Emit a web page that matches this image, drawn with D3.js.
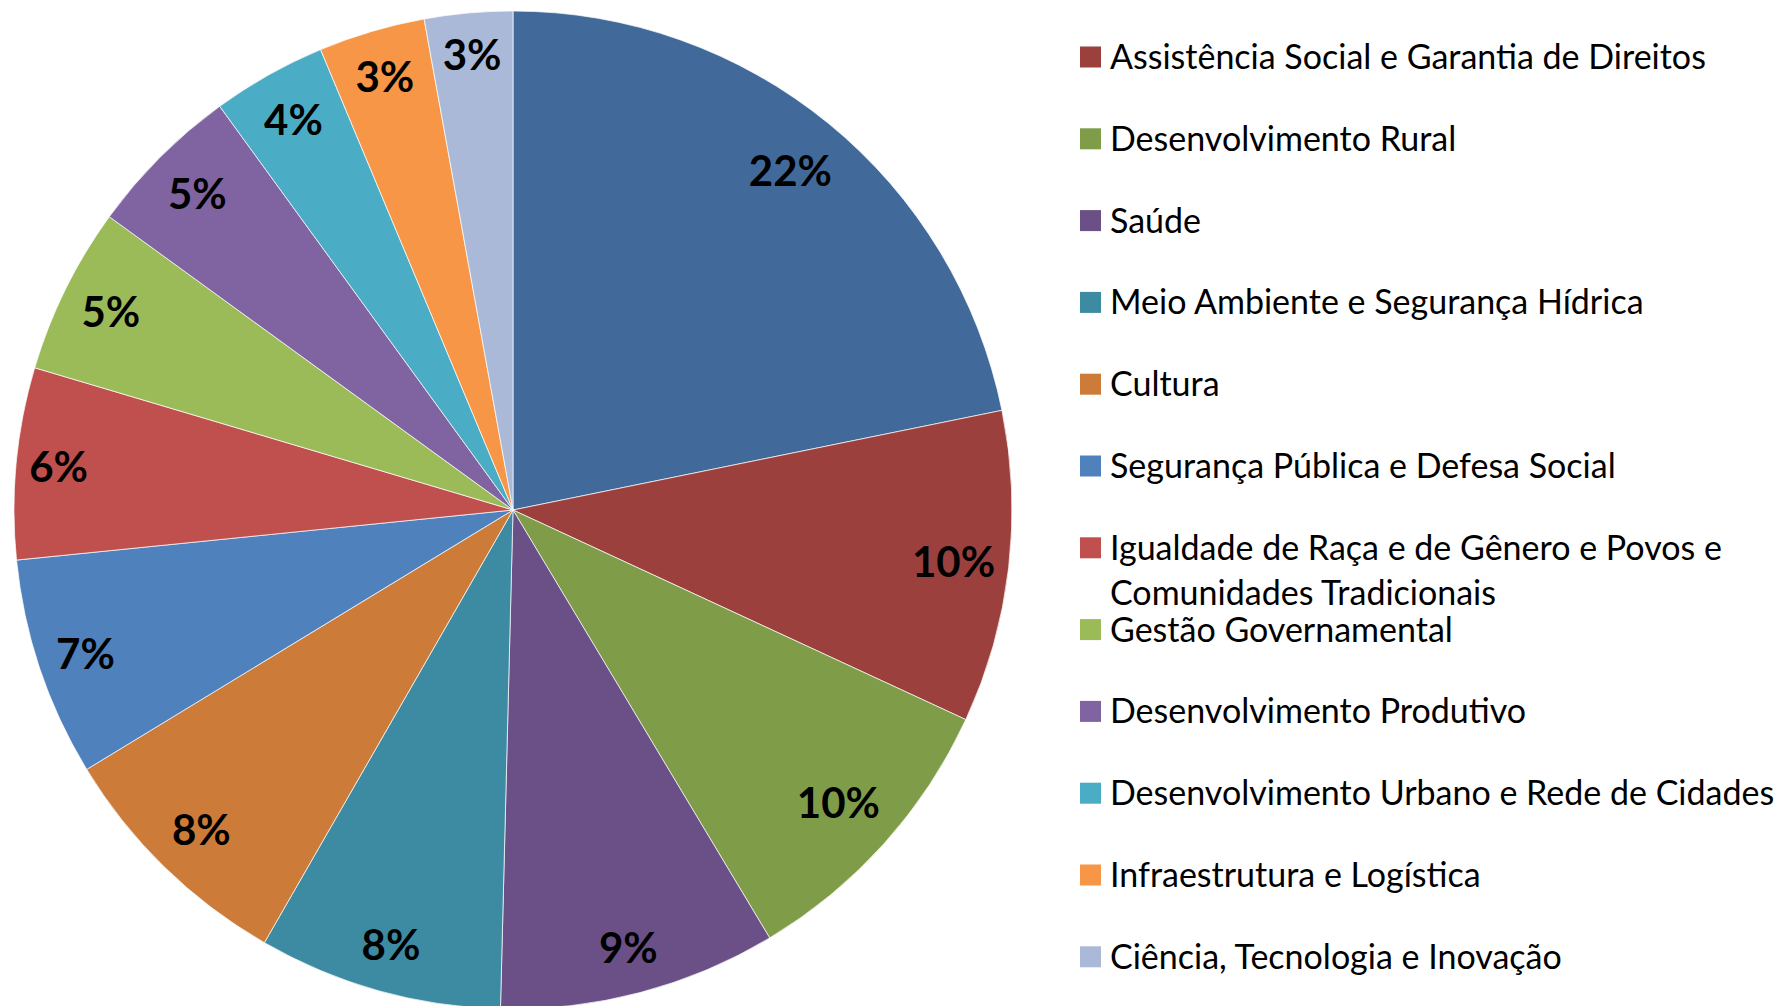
<!DOCTYPE html>
<html>
<head>
<meta charset="utf-8">
<script src="https://cdn.jsdelivr.net/npm/d3@7"></script>
<style>
  html, body { margin: 0; padding: 0; background: #fff; overflow: hidden; }
  svg { display: block; font-family: Lato, "Open Sans", sans-serif; }
</style>
</head>
<body>
<main></main>
<script>
const width = 1787;
const height = 1006;

// slice order = clockwise from 12 o'clock, same order as the legend
const categories = [
    "Educação",
    "Assistência Social e Garantia de Direitos",
    "Desenvolvimento Rural",
    "Saúde",
    "Meio Ambiente e Segurança Hídrica",
    "Cultura",
    "Segurança Pública e Defesa Social",
    "Igualdade de Raça e de Gênero e Povos e Comunidades Tradicionais",
    "Gestão Governamental",
    "Desenvolvimento Produtivo",
    "Desenvolvimento Urbano e Rede de Cidades",
    "Infraestrutura e Logística",
    "Ciência, Tecnologia e Inovação"
];
const values = [21.8, 10.1, 9.5, 9.0, 7.9, 8.0, 7.1, 6.2, 5.4, 5.0, 3.7, 3.45, 2.85];
const labels = ["22%", "10%", "10%", "9%", "8%", "8%", "7%", "6%", "5%", "5%", "4%", "3%", "3%"];
const colors = [
    "#416a9b", "#9c403e", "#7f9c48", "#6a5087", "#3c8ba3", "#cc7b38",
    "#4f81bd", "#c0504d", "#9bbb59", "#8064a2", "#4bacc6", "#f79646", "#aab9d7"
];

const cx = 513, cy = 510, radius = 499;

const svg = d3.select("main")
    .append("svg")
        .attr("width", width)
        .attr("height", height);

const color = d3.scaleOrdinal()
    .domain(categories)
    .range(colors);

const pie = d3.pie()
    .sort(null)
    .value(d => d.value);

const data = categories.map((c, i) => ({name: c, value: values[i], label: labels[i]}));
const arcs = pie(data);

const arc = d3.arc().innerRadius(0).outerRadius(radius);

const g = svg.append("g")
    .attr("transform", `translate(${cx}, ${cy})`);

g.selectAll("path")
    .data(arcs)
    .join("path")
        .attr("d", arc)
        .attr("fill", d => color(d.data.name))
        .attr("stroke", "#ffffff")
        .attr("stroke-width", 0.7);

// labels placed "inside end": pushed out until their box touches the rim
const labelPad = 4;
g.selectAll("text")
    .data(arcs)
    .join("text")
        .attr("text-anchor", "middle")
        .attr("dy", "0.36em")
        .attr("font-size", 42)
        .attr("font-weight", 700)
        .attr("fill", "#000")
        .text(d => d.data.label)
        .attr("transform", function(d) {
            const a = (d.startAngle + d.endAngle) / 2;
            const ux = Math.sin(a), uy = -Math.cos(a);
            const hw = this.getComputedTextLength() / 2 + 5;
            const hh = 34;
            let r = radius;
            while (r > 0) {
                const px = r * ux, py = r * uy;
                const far = Math.max(
                    Math.hypot(px + hw, py + hh), Math.hypot(px - hw, py + hh),
                    Math.hypot(px + hw, py - hh), Math.hypot(px - hw, py - hh));
                if (far <= radius - labelPad) break;
                r -= 0.5;
            }
            return `translate(${r * ux}, ${r * uy})`;
        });

// legend (first entry sits above the visible area, as in the original)
const legendX = 1080;
const legendTop = -24.8;
const legendStep = 81.8;
const legendY = d3.scaleLinear()
    .domain([0, categories.length - 1])
    .range([legendTop, legendTop + legendStep * (categories.length - 1)]);

const legendItems = categories
    .map((name, i) => ({name, y: legendY(i)}))
    .filter(d => d.y > 0);

const item = svg.append("g")
    .selectAll("g")
    .data(legendItems)
    .join("g")
        .attr("transform", d => `translate(${legendX}, ${d.y})`);

item.append("rect")
    .attr("x", 0)
    .attr("y", -10.5)
    .attr("width", 21)
    .attr("height", 21)
    .attr("fill", d => color(d.name));

const maxTextWidth = 690;
item.append("text")
    .attr("x", 30)
    .attr("font-size", 34)
    .attr("fill", "#000")
    .each(function(d) {
        const t = d3.select(this);
        const words = d.name.split(" ");
        let line = [];
        let tspan = t.append("tspan").attr("x", 30).attr("dy", "0.35em");
        for (const w of words) {
            line.push(w);
            tspan.text(line.join(" "));
            if (tspan.node().getComputedTextLength() > maxTextWidth && line.length > 1) {
                line.pop();
                tspan.text(line.join(" "));
                line = [w];
                tspan = t.append("tspan").attr("x", 30).attr("dy", 45).text(w);
            }
        }
    });
</script>
</body>
</html>
